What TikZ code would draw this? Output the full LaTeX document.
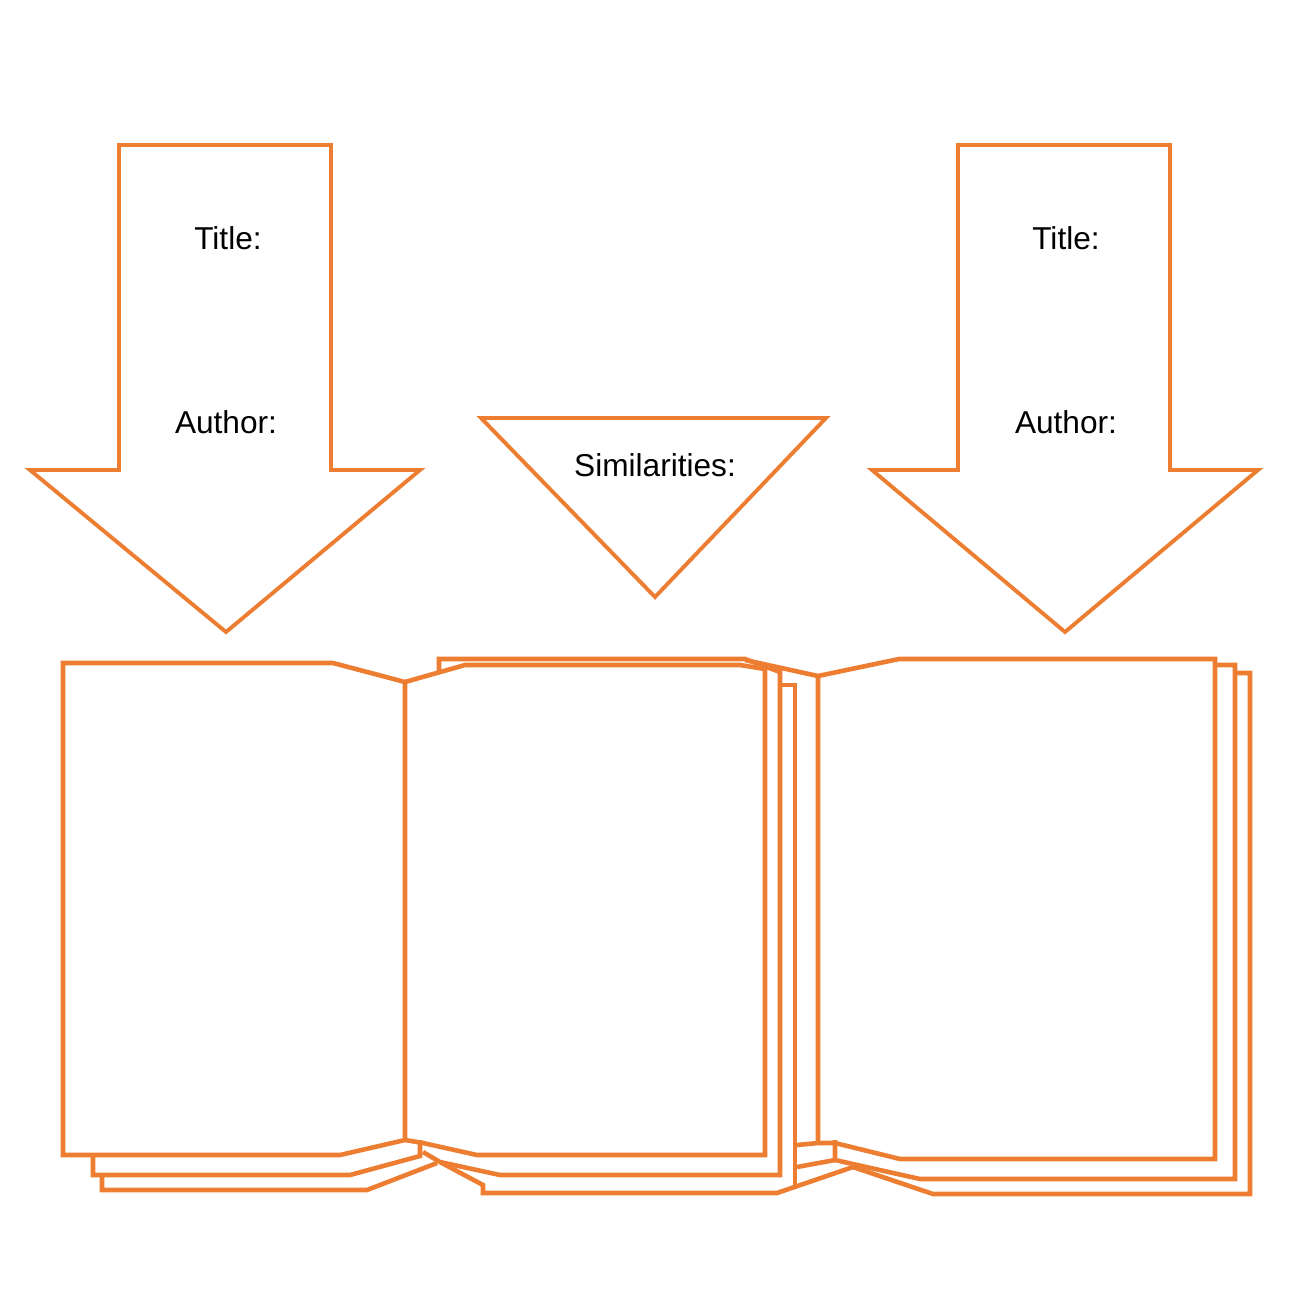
\documentclass[tikz,border=0pt]{standalone}
\usepackage{fontspec}
\setmainfont{Liberation Sans}
\usetikzlibrary{positioning}
\definecolor{orange2}{RGB}{237,125,49}
\tikzset{
  arrowshape/.style={draw=orange2, line width=1.1pt, line join=miter},
  pageline/.style={draw=orange2, line width=1.3pt, line join=miter},
  cuetext/.style={font=\fontsize{9}{11}\selectfont, text=black}
}
\begin{document}
\begin{tikzpicture}[x=0.1mm,y=-0.1mm]
\path[fill=white] (0,0) rectangle (1312,1306);

% arrows and triangle
\draw[arrowshape] (119,145) -- (331,145) -- (331,470) -- (420,470) -- (226,632) -- (30,470) -- (119,470) -- cycle;
\draw[arrowshape] (958,145) -- (1170,145) -- (1170,470) -- (1258,470) -- (1065,632) -- (872,470) -- (958,470) -- cycle;
\draw[arrowshape] (481,418) -- (826,418) -- (655,597) -- cycle;

\node[cuetext] (title1) at (228,238) {Title:};
\node[cuetext] (author1) at (226,422) {Author:};
\node[cuetext] (title2) at (1066,238) {Title:};
\node[cuetext] (author2) at (1066,422) {Author:};
\node[cuetext] (similar) at (655,465) {Similarities:};

% left book, left page
\draw[pageline] (63,663) -- (333,663) -- (405,682) -- (405,1140) -- (340,1155) -- (63,1155) -- cycle;
\draw[pageline] (93,1155) -- (93,1175) -- (350,1175) -- (420,1156) -- (420,1140);
\draw[pageline] (102,1175) -- (102,1190) -- (367,1190) -- (437,1163);
% left book, right page
\draw[pageline] (405,682) -- (465,665) -- (740,665) -- (765,669) -- (765,1155) -- (477,1155) -- (423,1143) -- (405,1140);
\draw[pageline] (439,672) -- (439,659) -- (745,659) -- (780,672) -- (780,1175) -- (500,1175) -- (440,1162) -- (423,1152);
\draw[pageline] (780,685) -- (795,685) -- (795,1185);
\draw[pageline] (440,1162) -- (483,1185) -- (483,1193) -- (777,1193) -- (853,1167);
% right book
\draw[pageline] (745,660) -- (818,676) -- (818,1143) -- (797,1145);
\draw[pageline] (818,676) -- (899,659) -- (1215,659) -- (1215,1159) -- (900,1159) -- (835,1143) -- (818,1143);
\draw[pageline] (1215,665) -- (1235,665) -- (1235,1179) -- (920,1179) -- (835,1160) -- (835,1140);
\draw[pageline] (835,1160) -- (797,1167);
\draw[pageline] (1235,673) -- (1250,673) -- (1250,1194) -- (933,1194) -- (853,1167);
\end{tikzpicture}
\end{document}
